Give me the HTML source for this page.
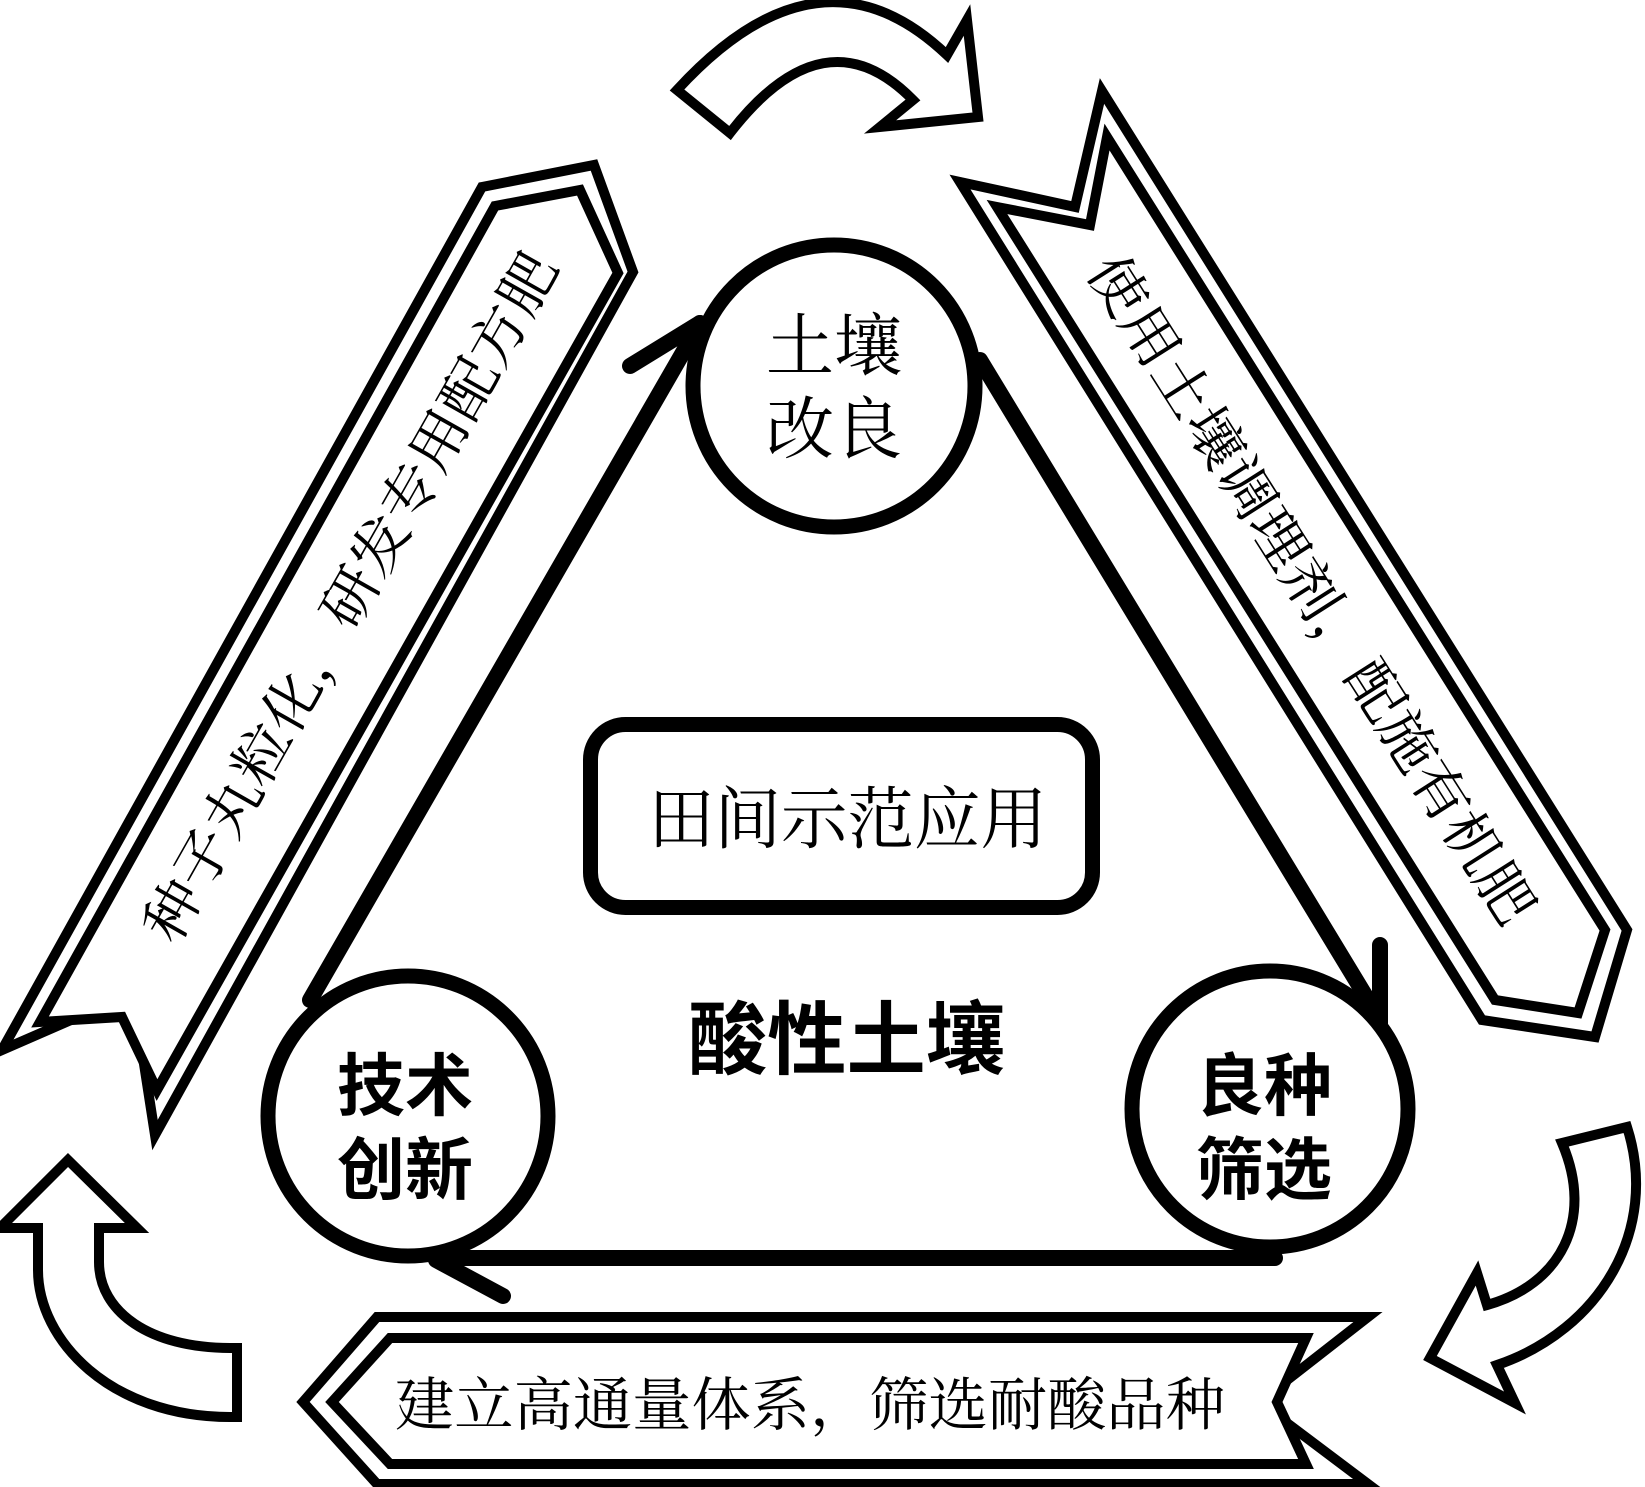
<!DOCTYPE html>
<html><head><meta charset="utf-8"><style>
html,body{margin:0;padding:0;background:#fff;}
svg{display:block;}
.song{font-family:"Liberation Serif","Noto Serif CJK SC",serif;}
.hei{font-family:"Liberation Sans","Noto Sans CJK SC",sans-serif;font-weight:700;}
</style></head><body>
<svg width="1645" height="1487" viewBox="0 0 1645 1487" xmlns="http://www.w3.org/2000/svg">
<rect width="1645" height="1487" fill="#fff"/>
<g fill="#fff" stroke="#000" stroke-width="10" stroke-linejoin="miter">
  <!-- left banner -->
  <polygon points="482,187 594,165 633,272 155,1135 133,993 2,1050"/>
  <polygon points="495,206 580,190 618,273 157,1090 122,1017 40,1022"/>
  <!-- right banner -->
  <polygon points="960,182 1075,207 1102,91 1627,930 1595,1037 1482,1020"/>
  <polygon points="997,207 1090,225 1107,137 1605,930 1578,1013 1495,1000"/>
  <!-- bottom banner -->
  <polygon points="377,1317 1368,1317 1259,1402 1368,1484 377,1484 303,1402"/>
  <polygon points="390,1338 1306,1338 1277,1402 1306,1464 390,1464 332,1402"/>
  <!-- top curved arrow -->
  <path d="M677,90 Q820,-66 947,55 L967,20 L978,117 L880,127 L913,100 Q825,10 730,133 Z"/>
  <!-- right curved arrow -->
  <path d="M1562,1143 L1627,1127 C1660,1230 1600,1330 1497,1365 L1515,1403 L1430,1358 L1477,1273 L1487,1305 C1560,1285 1595,1220 1562,1143 Z"/>
  <!-- left up arrow -->
  <path d="M68,1160 L137,1228 L99,1228 L99,1262 C99,1312 150,1348 230,1348 L237,1348 L237,1417 L230,1417 C110,1417 38,1340 38,1270 L38,1228 L0,1228 Z"/>
</g>
<!-- triangle connectors -->
<g stroke="#000" stroke-width="16" fill="none" stroke-linecap="round">
  <line x1="310" y1="1000" x2="700" y2="323"/>
  <line x1="700" y1="323" x2="630" y2="366"/>
  <line x1="980" y1="360" x2="1368" y2="1000"/>
  <line x1="1380" y1="945" x2="1380" y2="1025"/>
  <line x1="440" y1="1258" x2="1275" y2="1258"/>
  <line x1="436" y1="1260" x2="503" y2="1296"/>
</g>
<!-- circles -->
<g fill="#fff" stroke="#000" stroke-width="15">
  <circle cx="834" cy="386" r="141"/>
  <circle cx="408" cy="1116" r="140"/>
  <circle cx="1270" cy="1109" r="138"/>
</g>
<rect x="590.5" y="724.5" width="502" height="183" rx="35" fill="#fff" stroke="#000" stroke-width="15"/>
<g fill="#000">
  <text class="song" x="834" y="370" font-size="68" text-anchor="middle">土壤</text>
  <text class="song" x="834" y="453" font-size="68" text-anchor="middle">改良</text>
  <text class="hei" x="405" y="1110" font-size="68" text-anchor="middle">技术</text>
  <text class="hei" x="405" y="1194" font-size="68" text-anchor="middle">创新</text>
  <text class="hei" x="1264" y="1110" font-size="68" text-anchor="middle">良种</text>
  <text class="hei" x="1264" y="1194" font-size="68" text-anchor="middle">筛选</text>
  <text class="song" x="648" y="843" font-size="68" textLength="399" lengthAdjust="spacingAndGlyphs">田间示范应用</text>
  <text class="hei" x="688" y="1068" font-size="80" textLength="317" lengthAdjust="spacingAndGlyphs">酸性土壤</text>
  <text class="song" x="395" y="1425" font-size="58" textLength="830" lengthAdjust="spacingAndGlyphs">建立高通量体系，筛选耐酸品种</text>
  <text class="song" x="0" y="0" font-size="56" text-anchor="middle" dominant-baseline="central" textLength="780" lengthAdjust="spacingAndGlyphs" transform="translate(352,598) rotate(-60.5)">种子丸粒化，研发专用配方肥</text>
  <text class="song" x="0" y="0" font-size="56" text-anchor="middle" dominant-baseline="central" textLength="780" lengthAdjust="spacingAndGlyphs" transform="translate(1310,590) rotate(57.5)">使用土壤调理剂，配施有机肥</text>
</g>
</svg>
</body></html>
